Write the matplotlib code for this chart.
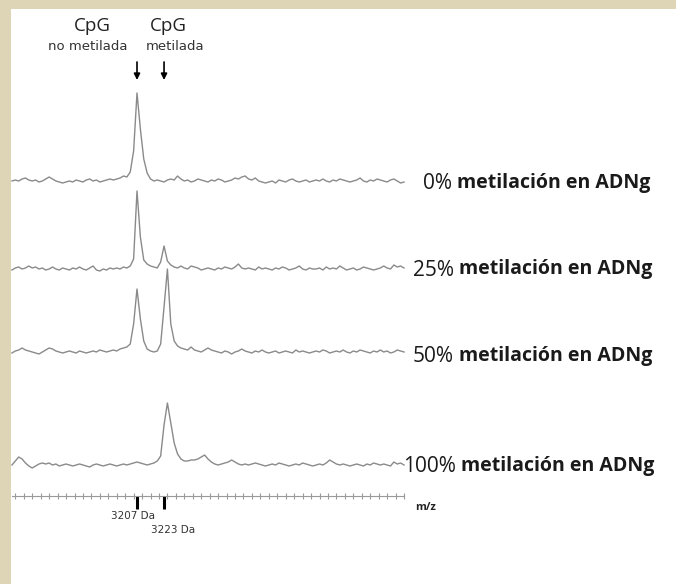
import numpy as np
import matplotlib
matplotlib.use('Agg')
import matplotlib.pyplot as plt
from matplotlib.ticker import MultipleLocator, FixedLocator

# m/z grid (2 Da steps) and intensities (px above baseline)
mz = np.arange(3133, 3366, 2)

int_0 = [0, 1, 0, 2, 3, 1, 0, 1, -1, 0,
         2, 4, 2, 0, -1, -2, -1, 0, -1, 1,
         0, -1, 1, 2, 0, 1, -1, 0, 1, 2,
         1, 2, 3, 5, 4, 9, 30, 88, 52, 22,
         8, 2, 0, 1, 0, -1, 1, 2, 1, 5,
         2, 0, 1, -1, 0, 2, 1, 0, -1, 1,
         0, 2, 1, -1, 0, 1, 3, 2, 4, 5,
         2, 1, 3, 0, -1, -2, -1, 0, -2, 1,
         0, -1, 1, 2, 0, -1, 0, 1, -1, 0,
         1, 0, 2, 0, -1, 1, 0, 2, 1, 0,
         -1, 0, 1, 3, 0, -1, 1, 0, 2, 1,
         0, -1, 1, 2, 0, -2, -1]

int_25 = [-1, 1, 2, 0, 1, 3, 1, 2, 0, 1,
          -1, 0, 2, 0, -1, 1, 0, -1, 1, 0,
          2, 0, -1, 1, 3, -1, -2, 0, -1, 1,
          0, 1, 0, 2, 1, 3, 10, 78, 32, 9,
          5, 3, 2, 1, 7, 23, 8, 4, 2, 1,
          3, 1, 0, 3, 2, 1, -1, 0, 1, 0,
          -1, 1, 0, 2, 1, 0, 2, 5, 1, 0,
          1, 0, -1, 2, 0, 1, 0, -1, 1, 0,
          2, 1, -1, 0, 1, 3, 0, -1, 1, 0,
          0, 1, -1, 2, 0, 1, 0, 3, 1, -1,
          0, 1, -1, 0, 2, 1, 0, -1, 0, 1,
          3, 1, 0, 4, 2, 3, 1]

int_50 = [-1, 1, 2, 4, 2, 1, 0, -1, -2, 0,
          2, 4, 3, 1, 0, -1, 0, 1, 0, -1,
          1, 0, -1, 0, 1, 0, 2, 1, 0, 1,
          2, 1, 3, 4, 5, 8, 28, 63, 33, 11,
          3, 1, 0, 1, 8, 45, 83, 28, 11, 6,
          4, 3, 2, 5, 2, 1, 0, 2, 4, 2,
          1, 0, -1, 1, 0, -2, 0, 1, 3, 1,
          0, -1, 1, 0, 2, 0, -1, 0, 1, -1,
          0, 1, 0, -1, 2, 0, 1, 0, -1, 0,
          1, 0, 2, 1, -1, 0, 1, 0, 2, 0,
          -1, 1, 0, 2, 1, 0, -1, 1, 0, 2,
          0, 1, -1, 0, 2, 1, 0]

int_100 = [0, 4, 8, 6, 2, -1, -3, -1, 1, 2,
           1, 2, 0, 1, -1, 0, 1, 0, -1, 0,
           1, 0, -1, -2, 0, 1, 0, -1, 0, 1,
           0, -1, 0, 1, 0, 1, 2, 3, 2, 1,
           0, 1, 2, 4, 9, 40, 62, 42, 22, 11,
           6, 4, 4, 5, 5, 6, 8, 10, 6, 3,
           1, 0, 1, 2, 3, 5, 3, 1, 0, 1,
           0, 1, 2, 1, 0, -1, 0, 1, 0, 2,
           1, 0, -1, 0, 1, 0, 2, 1, 0, -1,
           0, 1, 0, 2, 5, 3, 1, 0, 1, 0,
           -1, 0, 1, 0, -1, 1, 0, 2, 1, 0,
           1, 0, -1, 3, 1, 2, 0]

spectra = [int_0, int_25, int_50, int_100]
pct_labels = ['0%', '25%', '50%', '100%']
label_rest = 'metilación en ADNg'
mark_mz = [3207, 3223]
mark_labels = ['3207 Da', '3223 Da']

W, H = 676, 584
beige = '#ddd5b5'
line_col = '#8a8a8a'
narrow = ['Liberation Sans Narrow', 'DejaVu Sans']

def px2mz(p):
    return 3207 + (p - 137) / 1.69

def fx(p):
    return p / W

def fy(p):
    return 1 - p / H

fig = plt.figure(figsize=(W / 100, H / 100), dpi=100)
fig.patch.set_facecolor(beige)

# white panel
bg = fig.add_axes([fx(11), 0, 1 - fx(11), 1 - 9 / H])
bg.set_facecolor('white')
bg.set_xticks([])
bg.set_yticks([])
for s in bg.spines.values():
    s.set_visible(False)

# spectra, y in pixel rows
ax = fig.add_axes([0, 0, 1, 1])
ax.patch.set_alpha(0)
ax.set_xlim(px2mz(0), px2mz(W))
ax.set_ylim(H, 0)
ax.axis('off')

baselines = [181, 269, 352, 465]
for vals, base in zip(spectra, baselines):
    ax.plot(mz, base - np.array(vals), color=line_col, lw=1.0)

# arrows
for m in mark_mz:
    ax.annotate('', xy=(m, 80), xytext=(m, 62),
                arrowprops=dict(arrowstyle='-|>', color='black', lw=1.2,
                                mutation_scale=9, shrinkA=0, shrinkB=0))

fig.text(fx(92), fy(26), 'CpG', ha='center', va='center', fontsize=13.5,
         family='Open Sans', color='#222')
fig.text(fx(88), fy(47), 'no metilada', ha='center', va='center', fontsize=9.5,
         family=narrow, color='#333')
fig.text(fx(168), fy(26), 'CpG', ha='center', va='center', fontsize=13.5,
         family='Open Sans', color='#222')
fig.text(fx(175), fy(47), 'metilada', ha='center', va='center', fontsize=9.5,
         family=narrow, color='#333')

# m/z axis
ax2 = fig.add_axes([fx(12), fy(496), fx(404) - fx(12), 0.02])
ax2.patch.set_alpha(0)
ax2.set_xlim(3133, 3365)
for k in ['top', 'left', 'right']:
    ax2.spines[k].set_visible(False)
ax2.spines['bottom'].set_color('#999999')
ax2.spines['bottom'].set_linewidth(0.8)
ax2.set_yticks([])
ax2.xaxis.set_major_locator(FixedLocator(mark_mz))
ax2.xaxis.set_minor_locator(MultipleLocator(5))
ax2.tick_params(axis='x', which='major', direction='out', length=9, width=2.2,
                color='black', labelbottom=False)
ax2.tick_params(axis='x', which='minor', direction='inout', length=5, width=0.8,
                color='#999999')

fig.text(fx(133), fy(516), mark_labels[0], ha='center', va='center', fontsize=7.5,
         family=narrow, color='#333')
fig.text(fx(173), fy(530), mark_labels[1], ha='center', va='center', fontsize=7.5,
         family=narrow, color='#333')
fig.text(fx(415), fy(508), 'm/z', ha='left', va='center', fontsize=8,
         fontweight='bold', family='Open Sans', color='#222')

# right-hand labels
label_y = [184, 270, 357, 467]
label_x = [423, 413, 413, 403]
renderer = fig.canvas.get_renderer()
for pct, x, y in zip(pct_labels, label_x, label_y):
    t = fig.text(fx(x), fy(y), pct, ha='left', va='center', fontsize=15,
                 family='Open Sans', color='#1a1a1a')
    bb = t.get_window_extent(renderer)
    fig.text(fx(bb.x1 + 5), fy(y - 1), label_rest, ha='left', va='center',
             fontsize=14, fontweight='bold', family='Open Sans', color='#1a1a1a')

fig.savefig('out.png', dpi=100, facecolor=beige)
